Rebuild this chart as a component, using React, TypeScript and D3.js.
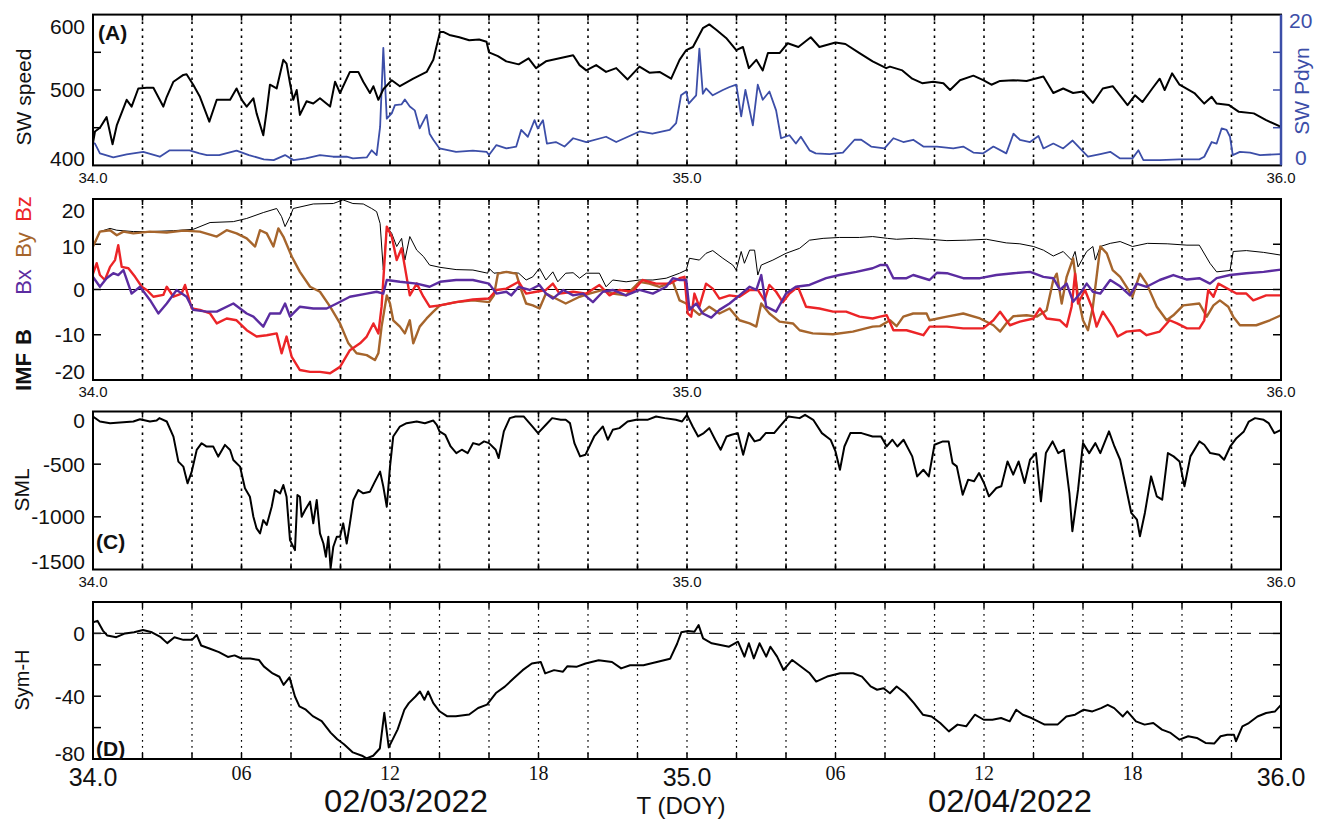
import React from 'react';
import * as d3 from 'd3';

// time in hours since DOY 34.0
const swSpeed: [number, number][] = [[0,430],[0.08,445],[0.28,450],[0.55,464],[0.79,428],[0.96,453],[1.36,487],[1.56,478],[1.83,502],[2.17,503],[2.44,503],[2.84,478],[2.98,491],[3.25,511],[3.65,520],[3.78,521],[4.05,507],[4.32,491],[4.7,458],[5.0,487],[5.54,487],[5.8,502],[6.01,487],[6.21,478],[6.48,489],[6.61,469],[6.88,440],[7.02,473],[7.15,507],[7.42,502],[7.69,540],[7.82,535],[7.96,509],[8.09,487],[8.23,500],[8.36,467],[8.63,485],[8.9,482],[9.17,489],[9.58,478],[9.78,511],[9.98,496],[10.38,524],[10.72,524],[10.92,511],[11.19,496],[11.33,505],[11.53,487],[11.73,501],[12.07,513],[12.4,505],[12.94,515],[13.48,524],[13.75,540],[14.02,577],[14.15,577],[14.4,573],[14.8,570],[15.2,566],[15.6,567],[15.9,564],[16.0,550],[16.36,545],[16.7,538],[17.2,534],[17.6,542],[17.9,529],[18.3,538],[18.85,542],[19.4,546],[19.66,533],[19.93,526],[20.33,533],[20.73,524],[21.14,529],[21.6,514],[22.08,531],[22.48,523],[22.89,524],[23.36,515],[23.7,540],[23.97,553],[24.24,557],[24.64,582],[24.9,587],[25.18,580],[25.58,569],[25.99,553],[26.26,557],[26.5,529],[26.8,540],[27.06,526],[27.27,549],[27.74,549],[28.07,562],[28.5,557],[29.0,570],[29.35,557],[30.0,563],[30.4,561],[30.97,549],[31.5,538],[32.05,529],[32.2,531],[32.7,526],[33.1,515],[33.5,509],[33.95,511],[34.36,509],[34.63,500],[35.03,513],[35.57,519],[35.97,513],[36.3,507],[36.65,512],[37.18,513],[37.72,512],[38.4,518],[38.8,496],[39.2,502],[39.6,496],[40.0,498],[40.4,483],[40.8,502],[41.2,505],[41.8,480],[42.1,493],[42.4,484],[42.8,502],[43.1,515],[43.3,500],[43.6,522],[43.9,507],[44.5,496],[44.9,482],[45.2,491],[45.4,482],[45.9,480],[46.3,471],[46.9,469],[47.4,460],[48.0,451]];

const swPdyn: [number, number][] = [[0,3.0],[0.08,2.9],[0.28,1.6],[0.82,1.06],[1.36,1.46],[2.03,1.8],[2.7,1.15],[3.1,2.0],[3.9,2.0],[4.3,1.6],[4.6,1.37],[5.1,1.37],[5.8,1.95],[6.3,1.37],[6.9,0.8],[7.3,0.7],[7.76,1.37],[8.1,0.7],[8.6,0.93],[9.17,1.37],[9.7,1.15],[10.25,1.15],[10.5,0.93],[11.06,1.06],[11.26,2.0],[11.46,1.37],[11.6,5.1],[11.73,15.6],[11.87,6.2],[12.07,6.9],[12.2,8.0],[12.47,8.1],[12.6,8.75],[12.8,7.8],[13.0,7.3],[13.2,4.9],[13.48,6.7],[13.6,4.2],[13.75,3.4],[14.0,2.25],[14.67,1.8],[15.35,1.95],[15.9,1.8],[16.0,1.37],[16.3,2.7],[16.7,2.25],[17.1,2.5],[17.3,4.7],[17.57,3.8],[17.84,6.0],[17.97,4.9],[18.18,6.0],[18.34,2.9],[18.7,3.1],[19.05,2.5],[19.4,3.6],[19.93,3.1],[20.73,3.8],[21.14,3.1],[22.08,4.5],[22.6,4.2],[23.3,4.7],[23.56,5.6],[23.76,9.3],[23.97,9.8],[24.07,8.2],[24.37,9.3],[24.5,15.5],[24.64,9.5],[24.77,10.2],[25.04,9.3],[25.45,10.0],[25.72,10.4],[25.99,10.7],[26.19,6.5],[26.36,10.0],[26.66,5.3],[26.86,10.7],[27.06,8.7],[27.33,9.8],[27.6,7.3],[27.8,3.6],[28.14,4.0],[28.4,2.9],[28.6,3.8],[28.95,2.0],[29.2,1.6],[29.76,1.5],[30.3,1.7],[30.77,3.4],[31.04,3.4],[31.44,2.5],[31.98,2.25],[32.34,3.6],[32.74,3.1],[33.14,3.4],[33.55,2.5],[34.1,2.5],[34.76,2.25],[35.16,2.5],[35.57,1.7],[35.97,1.6],[36.38,2.5],[36.9,1.6],[37.19,4.2],[37.45,3.4],[37.86,3.1],[38.2,3.9],[38.4,2.25],[38.8,2.9],[39.2,2.25],[39.58,3.3],[39.88,2.25],[40.2,1.15],[40.7,1.5],[41.1,1.8],[41.5,0.93],[42.0,0.93],[42.24,2.0],[42.44,0.7],[43.1,0.7],[43.9,0.8],[44.7,0.8],[44.9,1.15],[45.2,3.1],[45.4,2.9],[45.6,4.9],[45.8,4.7],[45.94,3.8],[46.05,1.37],[46.34,1.8],[46.75,1.7],[47.15,1.37],[47.96,1.5],[48,1.5]];

const imfB: [number, number][] = [[0,10],[0.08,10.2],[0.28,12.8],[0.69,13.5],[0.96,13.1],[1.63,12.8],[2.3,12.8],[3.25,13.0],[4.05,13.3],[4.73,14.8],[5.67,15.0],[6.21,15.7],[6.88,17.0],[7.42,17.9],[7.62,16.1],[7.76,13.9],[7.96,16.1],[8.09,17.9],[8.9,18.9],[9.71,19.0],[10.1,19.8],[10.5,19.0],[10.92,18.9],[11.26,17.9],[11.46,17.2],[11.6,14.6],[11.73,4.3],[11.87,13.9],[12.07,12.4],[12.27,9.5],[12.47,11.3],[12.6,6.5],[12.8,11.7],[13.08,8.7],[13.35,7.3],[13.6,5.4],[14.02,4.9],[14.67,4.4],[15.35,4.3],[15.95,3.6],[16.0,4.7],[16.2,3.6],[16.7,3.9],[17.2,3.6],[17.5,2.1],[17.77,2.8],[18.04,4.7],[18.3,2.1],[18.58,3.9],[18.78,1.7],[19.1,3.6],[19.4,3.7],[19.66,2.5],[19.93,3.6],[20.46,3.6],[20.73,0.6],[21.0,2.1],[21.54,1.7],[22.08,2.1],[22.62,2.1],[23.16,2.5],[23.7,3.6],[23.97,4.3],[24.1,6.9],[24.5,6.5],[24.77,8.0],[25.04,8.6],[25.45,6.9],[25.85,5.4],[25.99,4.3],[26.19,8.4],[26.32,5.8],[26.53,8.7],[26.73,8.7],[26.86,3.2],[27.0,5.4],[27.47,6.5],[28.0,8.0],[28.55,9.1],[28.95,10.9],[29.5,11.3],[30.16,11.5],[30.97,11.5],[31.5,11.7],[32.1,11.3],[32.47,11.1],[33.14,11.3],[33.8,11.1],[34.5,10.8],[35.3,10.9],[36.1,11.1],[36.9,10.3],[37.45,10.1],[38.0,9.5],[38.4,8.7],[38.8,7.4],[39.2,8.4],[39.54,6.5],[39.68,8.4],[39.8,5.0],[40.15,8.4],[40.4,9.5],[40.5,6.5],[40.7,9.5],[41.1,10.2],[41.5,10.6],[42.0,9.5],[42.6,10.2],[43.4,10.1],[44.2,9.8],[44.7,9.8],[45.13,5.8],[45.4,3.9],[45.94,4.2],[46.07,8.4],[46.6,8.6],[47.3,8.2],[48,7.6]];

const imfBy: [number, number][] = [[0,9.5],[0.28,12.8],[0.69,13.1],[0.96,12.0],[1.23,12.8],[1.63,12.4],[2.3,12.8],[2.98,12.6],[3.65,13.0],[4.32,12.8],[5.0,11.7],[5.4,13.1],[5.8,12.4],[6.21,11.3],[6.55,9.5],[6.75,13.1],[7.02,12.4],[7.29,9.5],[7.49,13.5],[7.69,11.7],[8.03,7.3],[8.36,3.9],[8.77,0.6],[9.17,-0.5],[9.58,-3.8],[9.98,-7.5],[10.32,-11.9],[10.65,-14.1],[11.06,-14.5],[11.39,-15.6],[11.53,-14.1],[11.66,-8.2],[11.87,-1.3],[12.0,-3.1],[12.13,-6.8],[12.4,-8.2],[12.6,-9.7],[12.8,-6.8],[12.94,-11.9],[13.2,-8.2],[13.48,-6.4],[13.75,-4.9],[14.02,-3.5],[14.67,-2.8],[15.35,-2.4],[16.0,-2.8],[16.2,-1.3],[16.36,3.5],[16.7,3.9],[17.1,3.5],[17.3,-0.1],[17.5,-3.1],[17.77,-3.5],[18.04,-4.2],[18.3,-0.9],[18.7,-2.0],[19.1,-3.1],[19.66,-1.6],[20.06,-0.9],[20.6,-0.1],[21.0,-0.9],[21.54,-1.3],[22.08,1.7],[22.48,1.3],[22.89,0.6],[23.43,1.7],[23.7,-2.4],[23.97,-3.1],[24.1,-3.8],[24.5,-5.6],[24.9,-3.8],[25.31,-5.3],[25.72,-4.2],[26.12,-6.8],[26.53,-7.5],[26.8,-8.2],[27.0,-3.1],[27.33,-5.3],[27.74,-7.1],[28.28,-7.5],[28.55,-9.0],[29.08,-9.7],[29.9,-9.9],[30.7,-9.3],[31.5,-8.2],[31.8,-8.1],[32.2,-6.8],[32.47,-8.1],[32.74,-6.0],[33.14,-5.3],[33.68,-5.3],[33.8,-6.8],[34.5,-6.0],[35.16,-5.3],[35.84,-6.4],[36.38,-7.9],[36.65,-9.3],[36.9,-7.5],[37.19,-5.9],[37.72,-5.7],[38.13,-6.0],[38.53,-4.6],[38.8,2.1],[38.94,3.5],[39.14,-3.1],[39.34,2.8],[39.6,6.9],[39.8,-1.6],[40.0,-6.8],[40.2,-9.0],[40.4,-3.8],[40.7,9.5],[40.96,8.0],[41.2,4.3],[41.5,2.8],[41.76,0.6],[42.0,-1.6],[42.3,3.5],[42.57,1.3],[42.98,-3.8],[43.38,-6.8],[43.65,-5.7],[44.05,-3.5],[44.7,-3.1],[45.0,-6.0],[45.27,-3.5],[45.53,-2.4],[45.87,-3.8],[46.07,-6.0],[46.34,-7.9],[47.0,-7.9],[47.55,-6.8],[48,-5.7]];

const imfBz: [number, number][] = [[0,3.5],[0.15,5.8],[0.28,3.2],[0.48,2.1],[0.69,5.0],[0.89,6.5],[1.02,9.8],[1.16,5.0],[1.43,4.7],[1.7,2.8],[1.97,0.6],[2.17,-0.1],[2.44,-1.6],[2.84,-1.2],[2.98,0.6],[3.25,-1.6],[3.58,-0.9],[3.72,1.0],[3.99,-4.2],[4.32,-4.5],[4.73,-5.3],[5.0,-7.5],[5.4,-6.4],[5.8,-6.8],[6.21,-9.0],[6.61,-10.4],[7.02,-10.1],[7.42,-9.7],[7.62,-14.1],[7.82,-10.4],[8.03,-14.9],[8.36,-17.8],[8.77,-18.2],[9.17,-18.2],[9.58,-18.5],[9.98,-17.1],[10.38,-13.4],[10.79,-11.9],[11.06,-10.4],[11.33,-7.5],[11.53,-9.7],[11.66,-3.8],[11.87,13.9],[12.07,11.7],[12.27,6.5],[12.47,9.1],[12.6,5.0],[12.8,-1.3],[13.08,1.3],[13.35,-1.6],[13.6,-3.8],[14.02,-3.5],[14.67,-2.8],[15.35,-2.2],[16.0,-2.0],[16.3,-0.1],[16.7,0.2],[17.2,1.7],[17.5,-0.9],[17.9,-0.5],[18.3,-0.1],[18.58,1.3],[18.85,-0.9],[19.4,-0.5],[19.93,-0.9],[20.46,1.0],[20.87,-1.3],[21.27,-0.1],[21.8,-0.5],[22.2,2.1],[22.75,1.3],[23.3,1.3],[23.7,2.5],[23.9,2.8],[24.03,-5.3],[24.17,-6.0],[24.3,-0.9],[24.5,-3.8],[24.77,1.3],[25.04,0.2],[25.31,-2.0],[25.72,-1.3],[26.12,-1.6],[26.53,-0.1],[26.86,-0.1],[27.13,-2.4],[27.33,1.0],[27.6,-0.5],[27.87,-2.8],[28.14,-0.9],[28.48,0.6],[28.81,-3.8],[29.35,-4.2],[29.9,-4.9],[30.43,-4.9],[30.97,-6.0],[31.5,-6.4],[31.8,-6.0],[32.07,-5.7],[32.34,-9.0],[32.87,-9.0],[33.55,-10.1],[33.8,-8.2],[34.5,-8.2],[35.16,-8.6],[35.97,-8.6],[36.38,-6.8],[36.65,-4.9],[37.05,-7.9],[37.45,-7.1],[38.0,-6.4],[38.26,-4.2],[38.53,-6.4],[39.07,-6.8],[39.34,-8.2],[39.54,-3.8],[39.68,3.5],[39.8,-3.1],[40.08,-0.1],[40.35,-3.8],[40.55,-8.2],[40.8,-4.9],[41.2,-8.2],[41.4,-10.4],[41.76,-9.3],[42.3,-9.0],[42.57,-10.1],[43.1,-9.3],[43.5,-6.8],[43.8,-7.5],[44.2,-8.6],[44.7,-8.6],[44.9,-6.8],[45.06,-0.1],[45.27,-1.6],[45.47,1.3],[45.94,-0.1],[46.2,-0.9],[46.6,-0.9],[46.88,-2.4],[47.4,-1.3],[48,-1.3]];

const imfBx: [number, number][] = [[0,2.8],[0.28,0.6],[0.55,2.5],[0.82,3.6],[1.02,3.2],[1.23,4.3],[1.56,-0.9],[1.9,0.6],[2.3,-2.3],[2.64,-5.3],[2.98,-3.1],[3.38,-0.1],[3.78,-1.6],[4.05,-4.5],[4.59,-4.9],[5.0,-4.9],[5.67,-3.1],[6.21,-5.3],[6.48,-6.0],[6.88,-8.2],[7.15,-5.3],[7.56,-5.3],[7.76,-3.1],[7.96,-6.0],[8.36,-3.8],[8.9,-4.2],[9.44,-4.2],[9.85,-3.1],[10.38,-1.6],[11.06,-0.9],[11.46,-0.5],[11.73,-0.9],[11.87,2.1],[12.4,1.7],[13.08,1.3],[13.6,0.6],[14.02,1.7],[14.67,2.1],[15.35,2.1],[16.0,1.3],[16.3,-0.9],[16.7,-0.5],[16.9,-1.3],[17.2,0.6],[17.64,-0.1],[18.04,1.0],[18.3,-0.9],[18.58,-2.0],[19.0,-0.1],[19.4,-1.3],[19.8,-0.9],[20.2,-2.8],[20.6,-0.5],[21.0,-0.1],[21.54,-1.3],[22.08,-0.1],[22.62,-0.9],[23.16,0.6],[23.43,2.5],[23.7,2.1],[23.97,2.1],[24.1,-4.5],[24.37,-3.1],[24.64,-5.3],[24.98,-6.2],[25.31,-4.5],[25.72,-3.1],[26.12,-1.3],[26.53,0.6],[26.8,-0.1],[27.0,3.2],[27.2,-3.8],[27.6,-4.9],[28.0,-0.9],[28.4,0.6],[28.95,1.0],[29.62,2.5],[30.16,3.2],[30.84,3.9],[31.5,4.7],[31.8,5.4],[32.07,5.4],[32.34,2.5],[32.87,2.5],[33.14,3.2],[33.8,2.1],[34.1,3.7],[34.5,3.6],[35.16,2.5],[35.84,2.5],[36.5,3.2],[37.19,3.6],[37.86,3.9],[38.4,2.8],[38.8,2.5],[39.07,-0.1],[39.34,1.3],[39.6,-2.7],[39.88,-0.9],[40.15,1.3],[40.4,-0.5],[40.7,-0.9],[41.1,2.1],[41.5,0.7],[41.9,-1.3],[42.17,1.3],[42.57,0.6],[43.1,2.1],[43.65,3.2],[44.2,2.2],[44.7,2.5],[45.13,1.3],[45.4,2.5],[45.94,3.2],[46.6,3.6],[47.3,3.9],[48,4.4]];

const sml: [number, number][] = [[0,-48],[0.28,-95],[0.69,-111],[1.09,-105],[1.63,-95],[1.9,-73],[2.3,-95],[2.57,-86],[2.68,-63],[2.98,-95],[3.25,-238],[3.45,-476],[3.65,-523],[3.82,-682],[3.99,-571],[4.19,-365],[4.39,-301],[4.59,-333],[4.86,-333],[5.06,-428],[5.33,-317],[5.54,-365],[5.67,-460],[5.94,-523],[6.14,-729],[6.34,-809],[6.48,-999],[6.61,-1110],[6.75,-1157],[6.88,-1031],[7.02,-1078],[7.22,-904],[7.35,-745],[7.56,-777],[7.69,-698],[7.82,-809],[7.96,-1221],[8.16,-1316],[8.26,-793],[8.36,-809],[8.43,-999],[8.57,-935],[8.77,-856],[8.9,-1062],[9.04,-840],[9.17,-1157],[9.31,-1253],[9.41,-1379],[9.51,-1189],[9.6,-1490],[9.71,-1284],[9.85,-1189],[9.98,-1189],[10.11,-1062],[10.25,-1253],[10.38,-1062],[10.52,-840],[10.72,-745],[10.92,-777],[11.19,-761],[11.39,-666],[11.6,-571],[11.73,-713],[11.87,-904],[12.0,-523],[12.13,-238],[12.4,-143],[12.67,-111],[13.08,-95],[13.41,-111],[13.75,-86],[13.89,-127],[14.0,-189],[14.23,-221],[14.45,-332],[14.68,-395],[14.9,-363],[15.14,-395],[15.36,-300],[15.6,-316],[15.8,-284],[16.0,-300],[16.27,-363],[16.39,-442],[16.6,-189],[16.84,-63],[17.07,-47],[17.4,-47],[17.75,-142],[17.98,-205],[18.3,-126],[18.55,-63],[18.9,-79],[19.1,-79],[19.27,-110],[19.45,-300],[19.68,-426],[19.9,-410],[20.25,-237],[20.6,-142],[20.8,-268],[21.0,-174],[21.27,-158],[21.6,-95],[21.95,-79],[22.4,-79],[22.75,-47],[23.1,-63],[23.55,-79],[23.8,-95],[24.0,-32],[24.23,-142],[24.45,-237],[24.68,-205],[24.9,-158],[25.14,-268],[25.36,-363],[25.6,-237],[25.8,-221],[26.05,-205],[26.27,-410],[26.5,-205],[26.73,-284],[26.95,-268],[27.18,-205],[27.52,-205],[27.75,-142],[28.1,-47],[28.55,-63],[28.77,-32],[29.1,-79],[29.45,-205],[29.8,-268],[30.0,-379],[30.18,-553],[30.36,-332],[30.6,-205],[31.05,-205],[31.5,-237],[31.84,-237],[32.07,-332],[32.3,-268],[32.5,-332],[32.75,-268],[33.1,-426],[33.3,-616],[33.55,-553],[33.77,-616],[34.0,-316],[34.34,-284],[34.57,-284],[34.73,-490],[34.9,-521],[35.14,-790],[35.36,-647],[35.6,-663],[35.8,-584],[36.0,-679],[36.2,-805],[36.5,-726],[36.7,-710],[36.95,-474],[37.18,-600],[37.4,-474],[37.64,-679],[37.86,-458],[38.1,-395],[38.3,-853],[38.5,-395],[38.77,-284],[39.0,-395],[39.23,-363],[39.45,-774],[39.57,-1137],[39.8,-742],[40.0,-300],[40.25,-395],[40.5,-300],[40.7,-395],[41.05,-189],[41.27,-332],[41.5,-458],[41.7,-679],[41.95,-963],[42.18,-1026],[42.3,-1184],[42.5,-963],[42.75,-616],[42.98,-805],[43.2,-837],[43.43,-395],[43.66,-426],[43.9,-474],[44.1,-710],[44.34,-426],[44.7,-284],[44.9,-316],[45.14,-395],[45.5,-410],[45.7,-458],[45.95,-332],[46.2,-253],[46.5,-189],[46.7,-95],[46.95,-63],[47.3,-79],[47.5,-110],[47.73,-205],[48,-174]];

const symH: [number, number][] = [[0,7],[0.18,8],[0.4,1.8],[0.58,-1.4],[0.94,-2.4],[1.3,0],[1.66,0.7],[2.02,2.2],[2.38,0.7],[2.74,-2.4],[3.0,-6.2],[3.29,-2.4],[3.65,-4.1],[4.0,-4.1],[4.19,-1.0],[4.37,-7.7],[4.73,-9.8],[5.09,-11.9],[5.45,-15],[5.72,-14],[6.0,-16],[6.35,-16],[6.71,-17],[6.9,-21],[7.26,-25.5],[7.53,-27.6],[7.7,-32.8],[7.94,-28],[8.16,-40.2],[8.34,-46.5],[8.6,-48.6],[8.88,-52.7],[9.24,-55.9],[9.6,-63.2],[9.87,-67.4],[10.14,-70.6],[10.5,-75.8],[10.87,-77.9],[11.05,-79.6],[11.32,-77.9],[11.59,-73.3],[11.77,-50.6],[11.95,-72.6],[12.31,-61.1],[12.58,-48.6],[12.76,-44.4],[13.03,-40.2],[13.21,-37],[13.39,-42.3],[13.54,-37],[13.75,-44.4],[14.0,-49.6],[14.3,-52.7],[14.66,-52.7],[15.2,-51.7],[15.56,-47.5],[15.92,-45.4],[16.28,-38],[16.64,-33.9],[17.0,-28.6],[17.36,-23.4],[17.73,-19.2],[18.09,-18.2],[18.27,-25.5],[18.63,-23.4],[18.99,-24.4],[19.17,-20.9],[19.53,-21.3],[19.9,-19.2],[20.43,-17.1],[20.97,-18.2],[21.34,-22.3],[21.7,-20.3],[22.24,-20.3],[22.78,-18.2],[23.32,-16.1],[23.6,-6.6],[23.77,0.7],[24.04,1.5],[24.3,1.1],[24.47,5.3],[24.65,-3.2],[25.0,-6.3],[25.35,-7.4],[25.7,-8.5],[26.06,-5.3],[26.32,-14.8],[26.5,-6.3],[26.7,-15.9],[26.93,-6.3],[27.2,-14.8],[27.37,-8.5],[27.64,-14.8],[27.9,-23.3],[28.25,-16.9],[28.6,-21.1],[28.96,-25.4],[29.22,-30.7],[29.66,-27.5],[30.19,-25.4],[30.71,-25.4],[31.07,-27.5],[31.42,-33.8],[31.68,-35.9],[31.94,-34.9],[32.2,-38.1],[32.47,-33.8],[32.82,-38.1],[33.17,-44.4],[33.53,-51.8],[33.88,-52.9],[34.23,-57.1],[34.58,-62.4],[34.93,-58.1],[35.28,-59.2],[35.63,-51.8],[35.99,-55],[36.34,-55],[36.69,-53.9],[37.04,-56],[37.3,-48.6],[37.57,-51.8],[37.92,-53.9],[38.45,-58.1],[38.97,-58.1],[39.33,-52.9],[39.68,-51.8],[40.03,-48.6],[40.38,-49.7],[40.73,-47.6],[41.0,-45.5],[41.26,-47.6],[41.61,-52.9],[41.79,-49.7],[42.14,-56],[42.49,-58.1],[42.84,-57.1],[43.19,-61.3],[43.54,-63.4],[43.9,-67.7],[44.25,-65.5],[44.6,-66.6],[44.95,-69.8],[45.3,-70.2],[45.56,-65.5],[45.83,-64.5],[46.1,-64.5],[46.18,-68.7],[46.44,-59.2],[46.7,-57.1],[47.05,-52.9],[47.4,-50.7],[47.76,-49.7],[48,-45.5]];

const doyTickHours = [0, 24, 48];
const doyTickLabels = ['34.0', '35.0', '36.0'];
const hourTickHours = [6, 12, 18, 30, 36, 42];
const hourTickLabels = ['06', '12', '18', '06', '12', '18'];
const dateLabels = ['02/03/2022', '02/04/2022'];
const dateLabelX = [406, 1010];
const speedTicks = [450, 500, 550];
const speedLabels = ['600', '500', '400'];
const pdynTicks = [5, 10, 15];
const bTicks = [-10, 0, 10];
const bLabels = ['20', '10', '0', '-10', '-20'];
const smlTicks = [-500, -1000];
const smlLabels = ['0', '-500', '-1000', '-1500'];
const symTicks = [-60, -40, -20, 0];
const symLabels = ['0', '-40', '-80'];

const X0 = 93, X1 = 1281;
const SANS = 'Liberation Sans, Arial, sans-serif';
const NARROW = 'Liberation Sans Narrow, Liberation Sans, sans-serif';
const SERIF = 'Liberation Serif, Times New Roman, serif';
const BLUE = '#3c4ea8';
const PURPLE = '#5b2ca0';
const BROWN = '#a6652c';
const RED = '#ec2427';

type Rng = [number, number];

export default function App() {
  const x = d3.scaleLinear().domain([0, 48]).range([X0, X1]);
  const pA: Rng = [14.6, 165.4];
  const pB: Rng = [199, 380];
  const pC: Rng = [411.5, 569.5];
  const pD: Rng = [602, 759];
  const yA = d3.scaleLinear().domain([400, 600]).range([pA[1], pA[0]]);
  const yP = d3.scaleLinear().domain([0, 20]).range([pA[1], pA[0]]);
  const yB = d3.scaleLinear().domain([-20, 20]).range([pB[1], pB[0]]);
  const yC = d3.scaleLinear().domain([-1500, 0]).range([pC[1], pC[0]]);
  const yD = d3.scaleLinear().domain([-80, 20]).range([pD[1], pD[0]]);
  const line = (ys: d3.ScaleLinear<number, number>) =>
    d3.line<[number, number]>().x(d => x(d[0])).y(d => ys(d[1]));
  const gridHours = d3.range(2, 48, 2);

  const frame = (p: Rng, dash: string, gw: number) => (
    <g>
      {gridHours.map(h => (
        <line key={'g' + h} x1={x(h)} x2={x(h)} y1={p[0]} y2={p[1]} stroke="#000" strokeWidth={gw} strokeDasharray={dash} />
      ))}
      {gridHours.map(h => (
        <g key={'t' + h}>
          <line x1={x(h)} x2={x(h)} y1={p[1]} y2={p[1] - 6} stroke="#000" strokeWidth={1.5} />
          <line x1={x(h)} x2={x(h)} y1={p[0]} y2={p[0] + 6} stroke="#000" strokeWidth={1.5} />
        </g>
      ))}
    </g>
  );
  const border = (p: Rng) => (
    <rect x={X0} y={p[0]} width={X1 - X0} height={p[1] - p[0]} fill="none" stroke="#000" strokeWidth={2} />
  );
  const yTicks = (ys: d3.ScaleLinear<number, number>, vals: number[], left = true, right = true) => (
    <g>
      {vals.map(v => (
        <g key={v}>
          {left && <line x1={X0} x2={X0 + 8} y1={ys(v)} y2={ys(v)} stroke="#000" strokeWidth={1.5} />}
          {right && <line x1={X1} x2={X1 - 8} y1={ys(v)} y2={ys(v)} stroke="#000" strokeWidth={1.5} />}
        </g>
      ))}
    </g>
  );
  const smallDoy = (yb: number) => (
    <g>
      {doyTickHours.map((h, i) => (
        <text key={h} x={x(h)} y={yb} textAnchor="middle" fontFamily={SANS} fontSize={15} fill="#111">{doyTickLabels[i]}</text>
      ))}
    </g>
  );
  const tickLab = (t: string, y: number, key: string | number) => (
    <text key={key} x={85} y={y} dy="0.35em" textAnchor="end" fontFamily={SANS} fontSize={21} fill="#111">{t}</text>
  );
  const rotLab = (t: React.ReactNode, cx: number, cy: number, fill = '#111', size = 21, weight: any = 'normal') => (
    <text transform={`translate(${cx},${cy}) rotate(-90)`} textAnchor="middle" dy="0.35em" fontFamily={SANS} fontSize={size} fill={fill} fontWeight={weight}>{t}</text>
  );

  const clip = (id: string, p: Rng) => (
    <clipPath id={id}><rect x={X0} y={p[0]} width={X1 - X0} height={p[1] - p[0]} /></clipPath>
  );

  return (
    <svg width={1322} height={820} style={{ position: 'absolute', left: 0, top: 0, background: '#fff' }}>
      <defs>
        {clip('cA', pA)}{clip('cB', pB)}{clip('cC', pC)}{clip('cD', pD)}
      </defs>
      <rect x={0} y={0} width={1322} height={820} fill="#fff" />

      {/* Panel A */}
      {frame(pA, '2.5 4.5', 1.6)}
      {yTicks(yA, speedTicks, true, false)}
      {pdynTicks.map(v => (
        <line key={'pt' + v} x1={X1} x2={X1 - 8} y1={yP(v)} y2={yP(v)} stroke={BLUE} strokeWidth={1.5} />
      ))}
      <g clipPath="url(#cA)">
        <path d={line(yP)(swPdyn) || ''} fill="none" stroke={BLUE} strokeWidth={1.8} strokeLinejoin="round" />
        <path d={line(yA)(swSpeed) || ''} fill="none" stroke="#000" strokeWidth={2} strokeLinejoin="round" />
      </g>
      <rect x={X0} y={pA[0]} width={X1 - X0} height={pA[1] - pA[0]} fill="none" stroke="#000" strokeWidth={2} />
      <line x1={X1} x2={X1} y1={pA[0]} y2={pA[1]} stroke={BLUE} strokeWidth={2.5} />
      <text x={98} y={40} fontFamily={SANS} fontSize={21} fontWeight="bold" fill="#111">(A)</text>
      {tickLab(speedLabels[0], 27, 'a0')}
      {tickLab(speedLabels[1], 90, 'a1')}
      {tickLab(speedLabels[2], 159, 'a2')}
      <text x={1289} y={21} dy="0.35em" fontFamily={SANS} fontSize={21} fill={BLUE}>20</text>
      <text x={1295} y={158} dy="0.35em" fontFamily={SANS} fontSize={21} fill={BLUE}>0</text>
      {rotLab('SW speed', 24, 97)}
      {rotLab('SW Pdyn', 1302, 91, BLUE)}
      {smallDoy(183)}

      {/* Panel B */}
      {frame(pB, '2.5 4.5', 1.6)}
      {yTicks(yB, bTicks)}
      <g clipPath="url(#cB)">
        <line x1={X0} x2={X1} y1={yB(0)} y2={yB(0)} stroke="#000" strokeWidth={1.2} />
        <path d={line(yB)(imfB) || ''} fill="none" stroke="#000" strokeWidth={1} strokeLinejoin="round" />
        <path d={line(yB)(imfBy) || ''} fill="none" stroke={BROWN} strokeWidth={2.4} strokeLinejoin="round" />
        <path d={line(yB)(imfBz) || ''} fill="none" stroke={RED} strokeWidth={2.4} strokeLinejoin="round" />
        <path d={line(yB)(imfBx) || ''} fill="none" stroke={PURPLE} strokeWidth={2.4} strokeLinejoin="round" />
      </g>
      {border(pB)}
      {tickLab(bLabels[0], 211, 'b0')}
      {tickLab(bLabels[1], yB(10) + 2, 'b1')}
      {tickLab(bLabels[2], yB(0), 'b2')}
      {tickLab(bLabels[3], yB(-10), 'b3')}
      {tickLab(bLabels[4], 372, 'b4')}
      {rotLab('IMF', 23, 372, '#111', 22, 'bold')}
      {rotLab('B', 23, 337, '#111', 22, 'bold')}
      {rotLab('Bx', 23, 282, PURPLE, 22)}
      {rotLab('By', 23, 245, BROWN, 22)}
      {rotLab('Bz', 23, 209, RED, 22)}
      {smallDoy(397)}

      {/* Panel C */}
      {frame(pC, '2.5 4.5', 1.6)}
      {yTicks(yC, smlTicks)}
      <g clipPath="url(#cC)">
        <path d={line(yC)(sml) || ''} fill="none" stroke="#000" strokeWidth={2} strokeLinejoin="round" />
      </g>
      {border(pC)}
      {tickLab(smlLabels[0], 421, 'c0')}
      {tickLab(smlLabels[1], yC(-500), 'c1')}
      {tickLab(smlLabels[2], yC(-1000), 'c2')}
      {tickLab(smlLabels[3], 562, 'c3')}
      <text x={96} y={549} fontFamily={SANS} fontSize={21} fontWeight="bold" fill="#111">(C)</text>
      {rotLab('SML', 22, 490)}
      {smallDoy(587)}

      {/* Panel D */}
      {frame(pD, '1.8 4.2', 1.2)}
      {yTicks(yD, symTicks)}
      <line x1={X0} x2={X1} y1={yD(0)} y2={yD(0)} stroke="#222" strokeWidth={1.3} strokeDasharray="14 8" />
      <g clipPath="url(#cD)">
        <path d={line(yD)(symH) || ''} fill="none" stroke="#000" strokeWidth={2} strokeLinejoin="round" />
      </g>
      {border(pD)}
      {tickLab(symLabels[0], yD(0), 'd0')}
      {tickLab(symLabels[1], yD(-40), 'd1')}
      {tickLab(symLabels[2], 754, 'd2')}
      <text x={96} y={756} fontFamily={SANS} fontSize={21} fontWeight="bold" fill="#111">(D)</text>
      {rotLab('Sym-H', 22, 680, '#111', 20)}
      {doyTickHours.map((h, i) => (
        <text key={'dd' + h} x={x(h)} y={786} textAnchor="middle" fontFamily={NARROW} fontSize={25} fill="#111">{doyTickLabels[i]}</text>
      ))}
      {hourTickHours.map((h, i) => (
        <text key={'hh' + h} x={x(h)} y={780} textAnchor="middle" fontFamily={SERIF} fontSize={20} fill="#111">{hourTickLabels[i]}</text>
      ))}
      {dateLabels.map((t, i) => (
        <text key={'dl' + i} x={dateLabelX[i]} y={812} textAnchor="middle" fontFamily={NARROW} fontSize={31}
          textLength={164} lengthAdjust="spacingAndGlyphs" fill="#111">{t}</text>
      ))}
      <text x={681} y={814} textAnchor="middle" fontFamily={NARROW} fontSize={24} fill="#111">T (DOY)</text>
    </svg>
  );
}
